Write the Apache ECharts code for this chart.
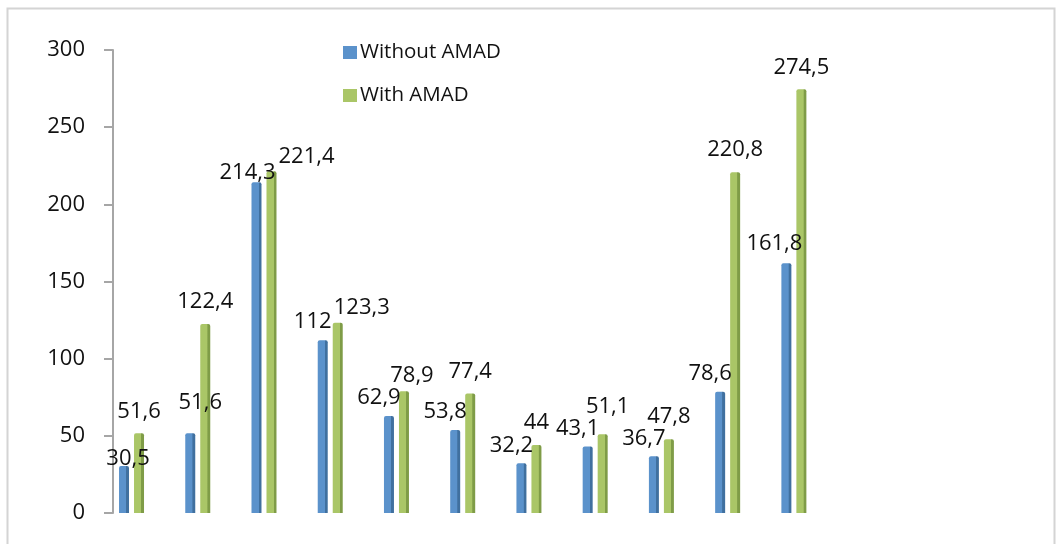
<!DOCTYPE html>
<html>
<head>
<meta charset="utf-8">
<script src="https://cdn.jsdelivr.net/npm/echarts@6/dist/echarts.min.js"></script>
<style>
html,body{margin:0;padding:0;background:#fff;}
#chart{width:1059px;height:544px;}
</style>
</head>
<body>
<div id="chart"></div>
<script>
const categories = ['1','2','3','4','5','6','7','8','9','10','11'];
const withoutAMAD = [30.5, 51.6, 214.3, 112, 62.9, 53.8, 32.2, 43.1, 36.7, 78.6, 161.8];
const withAMAD = [51.6, 122.4, 221.4, 123.3, 78.9, 77.4, 44, 51.1, 47.8, 220.8, 274.5];
const yTicks = [0, 50, 100, 150, 200, 250, 300];

const FONT = 'Open Sans';

function fmt(v){ return String(v).replace('.', ','); }

// label nudges (style only) for labels Excel moved to avoid overlaps
const blueNudge = {0:[4,8], 1:[10,-16], 2:[-9,5], 10:[-12,-5]};
const greenNudge = {2:[35,0], 3:[24,0], 4:[8,0], 7:[5,-12]};

function items(vals, nudge){
  return vals.map((v,i)=> nudge[i] ? {value:v, label:{offset:nudge[i]}} : v);
}

function grad(main, dark){
  return new echarts.graphic.LinearGradient(0,0,1,0,[
    {offset:0, color:main},{offset:0.7, color:main},
    {offset:0.74, color:dark},{offset:1, color:dark}
  ]);
}

const chart = echarts.init(document.getElementById('chart'), null, {renderer:'canvas'});
chart.setOption({
  animation:false,
  backgroundColor:'#fff',
  graphic:[{type:'rect', shape:{x:7.5,y:8.5,width:1047,height:560}, style:{fill:'none', stroke:'#d4d4d4', lineWidth:2}, silent:true}],
  legend:{
    orient:'vertical', left:338, top:37, itemGap:22,
    itemWidth:14, itemHeight:13, icon:'rect',
    textStyle:{fontFamily:FONT, fontSize:20.5, color:'#111', padding:[0,0,0,-2]},
    data:[{name:'Without AMAD', itemStyle:{color:'#5B92CB'}},{name:'With AMAD', itemStyle:{color:'#AAC667'}}]
  },
  grid:{left:98.4, width:728.6, top:50, bottom:31, containLabel:false},
  xAxis:{
    type:'category', data:categories,
    axisLine:{show:false}, axisTick:{show:false}, axisLabel:{show:false}, splitLine:{show:false}
  },
  yAxis:{
    type:'value', min:yTicks[0], max:yTicks[yTicks.length-1], interval:50, offset:-14.6,
    axisLine:{show:true, lineStyle:{color:'#a6a6a6', width:2}},
    axisTick:{show:true, length:9, lineStyle:{color:'#a6a6a6', width:2}},
    axisLabel:{margin:28, fontFamily:FONT, fontSize:22, color:'#111'},
    splitLine:{show:false}
  },
  series:[
    {
      name:'Without AMAD', type:'bar', barWidth:10, barGap:'50%',
      data:items(withoutAMAD, blueNudge),
      itemStyle:{color:grad('#5B92CB','#40709F'), borderRadius:[2,2,0,0]},
      label:{show:true, position:'top', distance:4, offset:[-10,-3], fontFamily:FONT, fontSize:22, color:'#111',
        formatter:p=>fmt(p.value)}
    },
    {
      name:'With AMAD', type:'bar', barWidth:10,
      data:items(withAMAD, greenNudge),
      itemStyle:{color:grad('#AAC667','#7F9C47'), borderRadius:[2,2,0,0]},
      label:{show:true, position:'top', distance:4, offset:[0,-7], fontFamily:FONT, fontSize:22, color:'#111',
        formatter:p=>fmt(p.value)}
    }
  ]
});
</script>
</body>
</html>
